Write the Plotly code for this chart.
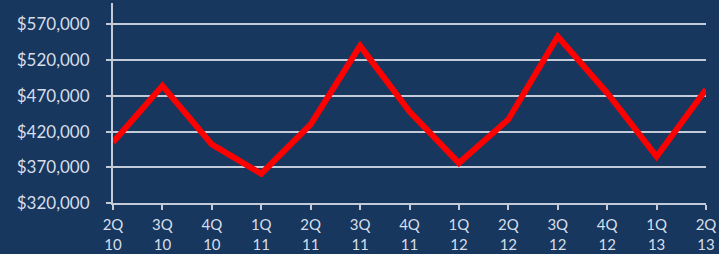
import plotly.graph_objects as go

quarters = ["2Q<br>10", "3Q<br>10", "4Q<br>10", "1Q<br>11", "2Q<br>11", "3Q<br>11", "4Q<br>11",
            "1Q<br>12", "2Q<br>12", "3Q<br>12", "4Q<br>12", "1Q<br>13", "2Q<br>13"]
values = [405000, 484000, 402000, 361000, 430000, 540000, 448000,
          376000, 437000, 553000, 474000, 385000, 479000]
y_ticks = [320000, 370000, 420000, 470000, 520000, 570000]
y_tick_labels = ["$320,000", "$370,000", "$420,000", "$470,000", "$520,000", "$570,000"]

bg = "#17375e"
grid = "#c3cbd9"
txt = "#d6deea"

fig = go.Figure(go.Scatter(
    x=list(range(len(quarters))), y=values, mode="lines",
    line=dict(color="#ff0000", width=6),
))

fig.update_layout(
    width=719, height=254,
    paper_bgcolor=bg, plot_bgcolor=bg,
    margin=dict(l=113, r=13, t=3, b=51),
    showlegend=False,
    font=dict(family="Lato, Open Sans, sans-serif", color=txt),
)
fig.update_xaxes(
    range=[0, 12], tickmode="array", tickvals=list(range(len(quarters))), ticktext=quarters,
    showgrid=False, zeroline=False,
    showline=True, linecolor=grid, linewidth=2,
    ticks="outside", ticklen=5, tickcolor=grid, tickwidth=2,
    tickfont=dict(size=15, color=txt),
    ticklabelstandoff=2,
    automargin=False,
)
fig.update_yaxes(
    range=[320000, 600000], tickmode="array", tickvals=y_ticks, ticktext=y_tick_labels,
    showgrid=True, gridcolor=grid, gridwidth=2, zeroline=False,
    showline=True, linecolor=grid, linewidth=2,
    ticks="outside", ticklen=5, tickcolor=grid, tickwidth=2,
    tickfont=dict(size=17, color=txt),
    ticklabelstandoff=13,
    automargin=False,
)

fig.write_html("out.html", config={"displayModeBar": False},
               post_script="document.body.style.margin='0';document.body.style.background='%s';" % bg)
